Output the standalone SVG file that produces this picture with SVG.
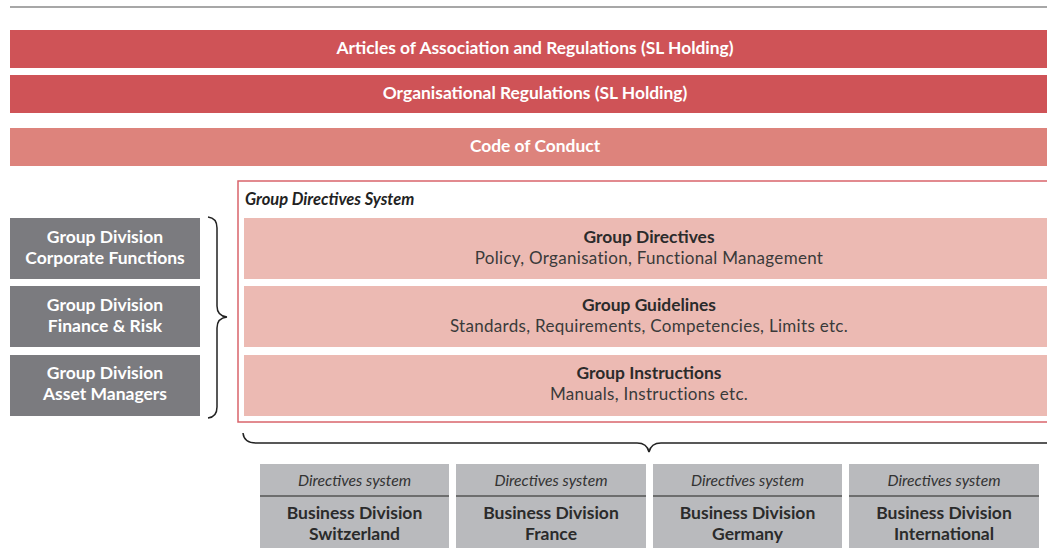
<svg xmlns="http://www.w3.org/2000/svg" width="1047" height="548" viewBox="0 0 1047 548">
<style>
.bar{fill:#CF5357}
.bar2{fill:#DD837C}
.bt{font-family:Lato,"Liberation Sans",sans-serif;font-weight:bold;font-size:17.4px;fill:#fff;text-anchor:middle}
.gd{fill:#7B7B7F}
.gt{font-family:Lato,"Liberation Sans",sans-serif;font-weight:bold;font-size:17.5px;fill:#fff;text-anchor:middle}
.pk{fill:#ECBAB3}
.pt{font-family:Lato,"Liberation Sans",sans-serif;font-weight:bold;font-size:17.4px;fill:#2b2b2b;text-anchor:middle}
.ps{font-family:Lato,"Liberation Sans",sans-serif;font-size:17px;fill:#3a3a3a;text-anchor:middle;letter-spacing:0.3px}
.bd{fill:#B9BABD}
.bi{font-family:Lato,"Liberation Sans",sans-serif;font-style:italic;font-size:15.7px;fill:#333;text-anchor:middle}
.bb{font-family:Lato,"Liberation Sans",sans-serif;font-weight:bold;font-size:17.5px;fill:#2b2b2b;text-anchor:middle}
.brace{fill:none;stroke:#222;stroke-width:1.5}
</style>
<line x1="10" y1="7" x2="1047" y2="7" stroke="#8a8a8a" stroke-width="1.5"/>
<g id="articles"><rect class="bar" x="10" y="30" width="1037" height="38"/><text class="bt" x="535" y="54">Articles of Association and Regulations (SL Holding)</text></g>
<g id="orgreg"><rect class="bar" x="10" y="75" width="1037" height="38"/><text class="bt" x="535" y="99">Organisational Regulations (SL Holding)</text></g>
<g id="code"><rect class="bar2" x="10" y="128" width="1037" height="38"/><text class="bt" x="535" y="152">Code of Conduct</text></g>

<g id="gds">
<rect x="238" y="181" width="815" height="241" fill="none" stroke="#D9646B" stroke-width="1.5"/>
<text x="245" y="205" font-family="Lato,'Liberation Sans',sans-serif" font-weight="bold" font-style="italic" font-size="16.5" fill="#222">Group Directives System</text>
</g>
<g id="gdirectives"><rect class="pk" x="244" y="218" width="803" height="61"/><text class="pt" x="649" y="243">Group Directives</text><text class="ps" x="649" y="264">Policy, Organisation, Functional Management</text></g>
<g id="gguidelines"><rect class="pk" x="244" y="286" width="803" height="61"/><text class="pt" x="649" y="311">Group Guidelines</text><text class="ps" x="649" y="332">Standards, Requirements, Competencies, Limits etc.</text></g>
<g id="ginstructions"><rect class="pk" x="244" y="355" width="803" height="61"/><text class="pt" x="649" y="379">Group Instructions</text><text class="ps" x="649" y="400">Manuals, Instructions etc.</text></g>

<g id="gd-corp"><rect class="gd" x="10" y="218" width="190" height="61"/><text class="gt" x="105" y="243">Group Division</text><text class="gt" x="105" y="264">Corporate Functions</text></g>
<g id="gd-fin"><rect class="gd" x="10" y="286" width="190" height="61"/><text class="gt" x="105" y="311">Group Division</text><text class="gt" x="105" y="332">Finance &amp; Risk</text></g>
<g id="gd-am"><rect class="gd" x="10" y="355" width="190" height="61"/><text class="gt" x="105" y="379">Group Division</text><text class="gt" x="105" y="400">Asset Managers</text></g>

<g id="connectors">
<path class="brace" d="M208,217 Q217,218 217,228 L217,306 Q217,316 227,317 Q217,318 217,328 L217,407 Q217,417 208,418"/>
<path class="brace" d="M243,433 Q244,443 256,443 L637,443 Q647,443 649,452 Q651,443 661,443 L1047,443"/>
</g>

<g id="bd-ch"><rect class="bd" x="260" y="464" width="189" height="84"/><line x1="260" y1="496" x2="449" y2="496" stroke="#555" stroke-width="1.5"/><text class="bi" x="354.5" y="486">Directives system</text><text class="bb" x="354.5" y="519">Business Division</text><text class="bb" x="354.5" y="540">Switzerland</text></g>
<g id="bd-fr"><rect class="bd" x="456" y="464" width="190" height="84"/><line x1="456" y1="496" x2="646" y2="496" stroke="#555" stroke-width="1.5"/><text class="bi" x="551" y="486">Directives system</text><text class="bb" x="551" y="519">Business Division</text><text class="bb" x="551" y="540">France</text></g>
<g id="bd-de"><rect class="bd" x="653" y="464" width="189" height="84"/><line x1="653" y1="496" x2="842" y2="496" stroke="#555" stroke-width="1.5"/><text class="bi" x="747.5" y="486">Directives system</text><text class="bb" x="747.5" y="519">Business Division</text><text class="bb" x="747.5" y="540">Germany</text></g>
<g id="bd-int"><rect class="bd" x="849" y="464" width="190" height="84"/><line x1="849" y1="496" x2="1039" y2="496" stroke="#555" stroke-width="1.5"/><text class="bi" x="944" y="486">Directives system</text><text class="bb" x="944" y="519">Business Division</text><text class="bb" x="944" y="540">International</text></g>
</svg>
